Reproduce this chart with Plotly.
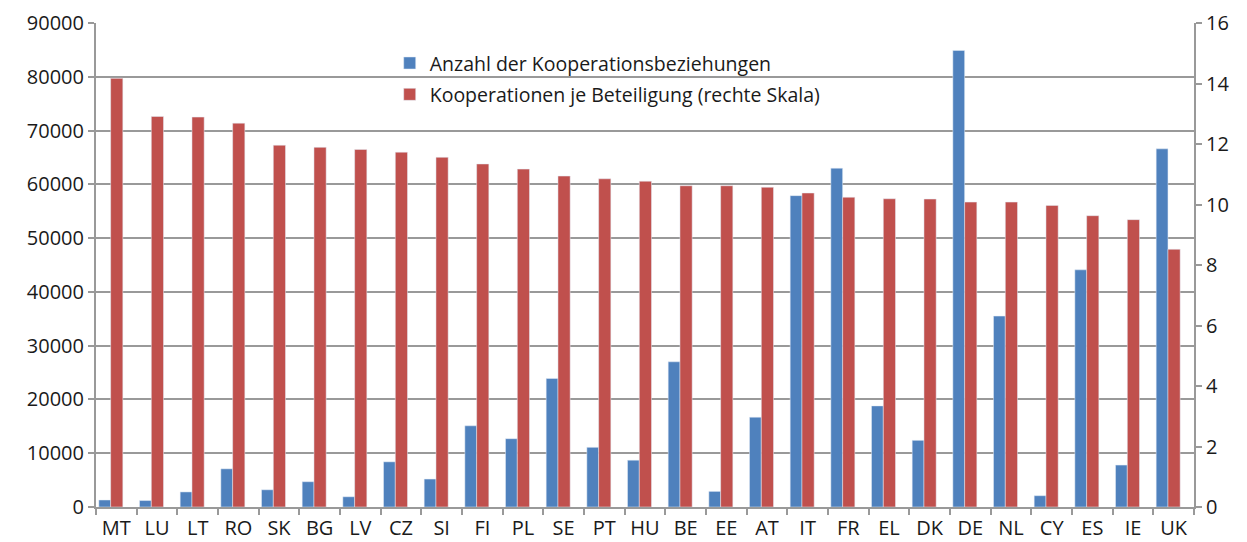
import plotly.graph_objects as go

countries = ["MT", "LU", "LT", "RO", "SK", "BG", "LV", "CZ", "SI", "FI", "PL", "SE", "PT", "HU",
             "BE", "EE", "AT", "IT", "FR", "EL", "DK", "DE", "NL", "CY", "ES", "IE", "UK"]
anzahl = [1300, 1200, 2800, 7100, 3200, 4700, 1900, 8400, 5200, 15100, 12700, 23900, 11100, 8700,
          27000, 2900, 16700, 57900, 63000, 18800, 12400, 84900, 35500, 2100, 44100, 7800, 66600]
je_beteiligung = [14.17, 12.91, 12.89, 12.69, 11.96, 11.89, 11.82, 11.73, 11.56, 11.34, 11.17, 10.94,
                  10.85, 10.77, 10.62, 10.62, 10.57, 10.38, 10.24, 10.19, 10.18, 10.08, 10.08, 9.97,
                  9.63, 9.50, 8.52]
left_ticks = list(range(0, 90001, 10000))
right_ticks = list(range(0, 17, 2))

name_blue = "Anzahl der Kooperationsbeziehungen"
name_red = "Kooperationen je Beteiligung (rechte Skala)"

fig = go.Figure()
fig.add_trace(go.Bar(x=countries, y=anzahl, name=name_blue, marker_color="#4F81BD",
                     offset=-0.43, width=0.29, yaxis="y", legendgroup="a"))
fig.add_trace(go.Bar(x=countries, y=je_beteiligung, name=name_red, marker_color="#C0504D",
                     offset=-0.14, width=0.30, yaxis="y2", legendgroup="b"))

axis_col = "#999999"
font_col = "#1a1a1a"
tf = dict(size=20, color=font_col)
fig.update_layout(
    width=1231, height=534,
    margin=dict(l=88, r=45, t=15, b=35),
    paper_bgcolor="white", plot_bgcolor="white",
    font=dict(family="Open Sans, Noto Sans, sans-serif", size=20, color=font_col),
    barmode="overlay",
    showlegend=True,
    legend=dict(x=0.2675, y=0.957, xanchor="left", yanchor="top", bgcolor="rgba(0,0,0,0)",
                font=dict(size=19.5, color=font_col), tracegroupgap=3,
                traceorder="grouped"),
    xaxis=dict(showline=True, linecolor=axis_col, linewidth=2, ticks="outside", tickson="boundaries",
               ticklen=6, tickcolor=axis_col, tickwidth=2, showgrid=False, automargin=False,
               ticklabelstandoff=2, tickfont=tf),
    yaxis=dict(range=[0, 90000], tickvals=left_ticks, showgrid=True, gridcolor=axis_col, gridwidth=2,
               showline=True, linecolor=axis_col, linewidth=2, ticks="outside", ticklen=6,
               tickcolor=axis_col, tickwidth=2, zeroline=False, tickformat="d", automargin=False,
               tickfont=tf),
    yaxis2=dict(range=[0, 16], tickvals=right_ticks, overlaying="y", side="right", showgrid=False,
                showline=True, linecolor=axis_col, linewidth=2, ticks="outside", ticklen=6,
                tickcolor=axis_col, tickwidth=2, zeroline=False, automargin=False,
                tickfont=tf),
)

fig.write_html("out.html")
